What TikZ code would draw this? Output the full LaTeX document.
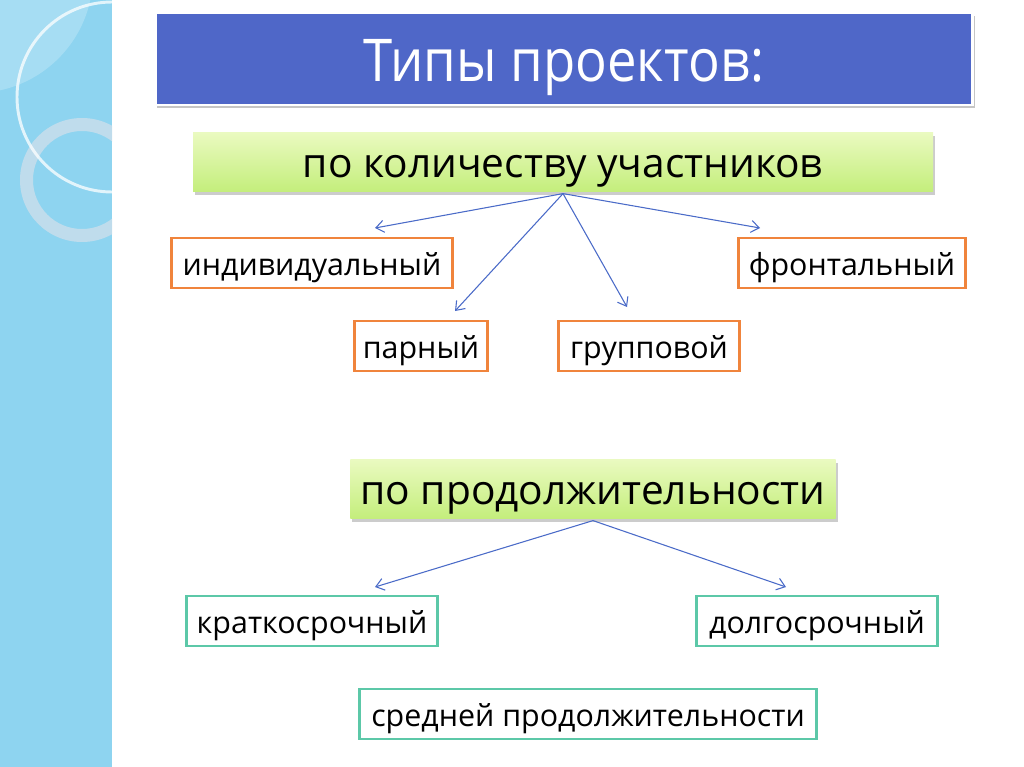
\documentclass[tikz,border=0pt]{standalone}
\usepackage{fontspec}
\setmainfont{Open Sans}
\usetikzlibrary{arrows.meta,shadows}
\definecolor{strip}{HTML}{8ED4F0}
\definecolor{titleblue}{HTML}{4F67C8}
\definecolor{orangeb}{HTML}{F0843C}
\definecolor{tealb}{HTML}{5CC8A8}
\definecolor{arrowc}{HTML}{4A6BC8}
\definecolor{greenA}{HTML}{EAFAC0}
\definecolor{greenB}{HTML}{C4EE7C}
\definecolor{ringc}{HTML}{C8DEEC}
\tikzset{
  px/.style={x=0.75pt,y=-0.75pt},
  titlebox/.style={draw=white,line width=2pt,fill=titleblue,text=white,
    minimum width=613pt,minimum height=69pt,inner sep=0pt,
    text height=45pt,text depth=10.5pt,
    drop shadow={opacity=0.45,shadow xshift=1.5pt,shadow yshift=-2.5pt},
    font=\fontsize{39.5}{44}\selectfont},
  catbox/.style={top color=greenA,bottom color=greenB,draw=none,inner sep=0pt,
    minimum height=44pt,text height=31pt,text depth=7.7pt,
    drop shadow={opacity=0.4,shadow xshift=1.5pt,shadow yshift=-2.5pt},
    font=\fontsize{30.5}{33}\selectfont},
  obox/.style={draw=orangeb,line width=2.1pt,fill=white,inner sep=0pt,
    minimum height=37.5pt,text height=24pt,text depth=6pt,
    font=\fontsize{22.8}{26}\selectfont},
  tbox/.style={draw=tealb,line width=2.1pt,fill=white,inner sep=0pt,
    minimum height=37.5pt,text height=24pt,text depth=6pt,
    font=\fontsize{22.8}{26}\selectfont},
  arr/.style={draw=arrowc,line width=0.8pt,-{Straight Barb[length=6pt,width=9pt]}}
}
\begin{document}
\begin{tikzpicture}[px]
\useasboundingbox (0,0) rectangle (1024,767);
\fill[white] (0,0) rectangle (1024,767);
% left strip
\begin{scope}
\clip (0,0) rectangle (112,767);
\fill[strip] (0,0) rectangle (112,767);
\fill[white,opacity=0.22] (-25,-25) circle (118);
\fill[ringc,opacity=0.85,even odd rule] (82,180) circle (62) (82,180) circle (49);
\draw[white,opacity=0.75,line width=2.2pt] (112,97) circle (95);
\end{scope}
% title
\node[titlebox] (title) at (564,59) {\scalebox{1}[1.12]{Типы проектов:}};
% first category
\node[catbox,minimum width=555pt] (k1) at (563,162) {по количеству участников};
\node[obox,minimum width=211pt] (ind) at (312,263) {индивидуальный};
\node[obox,minimum width=170pt] (fro) at (852,263) {фронтальный};
\node[obox,minimum width=100pt] (par) at (421,346) {парный};
\node[obox,minimum width=136pt] (grp) at (649,346) {групповой};
\coordinate (eind) at (375,228);
\coordinate (epar) at (455,311);
\coordinate (egrp) at (627,307);
\coordinate (efro) at (760,228);
\draw[arr] (k1.south) ++(0,2) coordinate (s1) -- (eind);
\draw[arr] (s1) -- (epar);
\draw[arr] (s1) -- (egrp);
\draw[arr] (s1) -- (efro);
% second category
\node[catbox,minimum width=364pt] (k2) at (593,489) {по продолжительности};
\node[tbox,minimum width=188pt] (kra) at (312,621) {краткосрочный};
\node[tbox,minimum width=181pt] (dol) at (817,621) {долгосрочный};
\node[tbox,minimum width=343pt] (sre) at (588,714) {средней продолжительности};
\coordinate (ekra) at (375,587);
\coordinate (edol) at (786,587);
\draw[arr] (k2.south) ++(0,2) coordinate (s2) -- (ekra);
\draw[arr] (s2) -- (edol);
\end{tikzpicture}
\end{document}
